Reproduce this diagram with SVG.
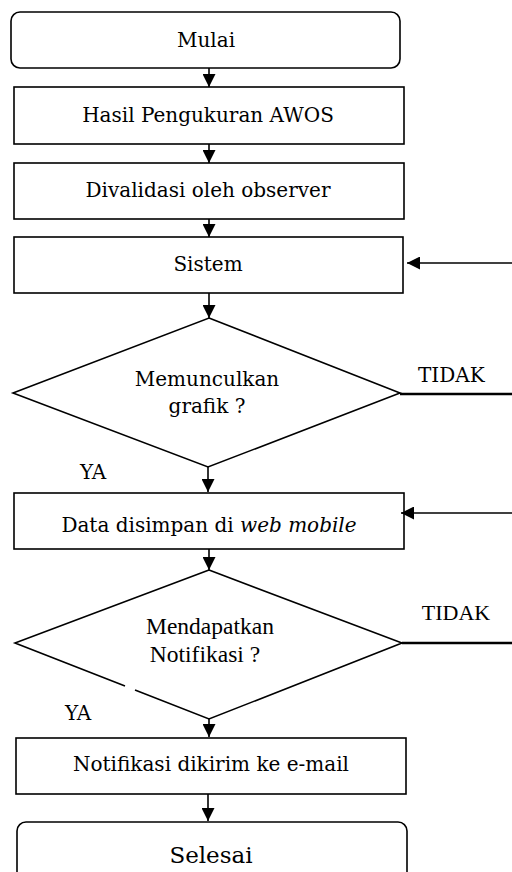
<svg xmlns="http://www.w3.org/2000/svg" width="512" height="872" viewBox="0 0 512 872">
<style>
.box{fill:#fff;stroke:#000;stroke-width:1.6}
.ln{fill:none;stroke:#000;stroke-width:1.6}
.thick{fill:none;stroke:#000;stroke-width:2.6}
.t{font-family:"DejaVu Serif","Liberation Serif",serif;font-size:20px;fill:#000;text-anchor:middle}
.tt{font-family:"Liberation Serif","Times New Roman",serif;font-size:23.5px;fill:#000;text-anchor:middle}
.lbl{font-family:"DejaVu Serif","Liberation Serif",serif;font-size:20px;fill:#000}
</style>
<defs>
<marker id="ah" markerUnits="userSpaceOnUse" markerWidth="13" markerHeight="13" refX="13" refY="6.5" orient="auto" viewBox="0 0 13 13">
<path d="M0,0 L13,6.5 L0,13 z" fill="#000"/>
</marker>
</defs>
<g id="mulai"><rect class="box" x="11" y="12" width="389" height="56" rx="9"/><text class="t" x="206" y="47">Mulai</text></g>
<g id="hasil"><rect class="box" x="14" y="87" width="390" height="57"/><text class="t" x="208" y="122">Hasil Pengukuran AWOS</text></g>
<g id="validasi"><rect class="box" x="14" y="163" width="390" height="56"/><text class="t" x="208" y="197">Divalidasi oleh observer</text></g>
<g id="sistem"><rect class="box" x="14" y="237" width="389" height="56"/><text class="t" x="208" y="271">Sistem</text></g>
<g id="grafik"><path class="ln" d="M209,318 L400,393 L208,467 L13,393 Z"/><text class="t" x="207" y="386">Memunculkan</text><text class="t" x="207" y="413">grafik ?</text></g>
<g id="data"><rect class="box" x="14" y="493" width="390" height="56"/><text class="t" x="209" y="532">Data disimpan di <tspan font-style="italic">web mobile</tspan></text></g>
<g id="notif-q"><path class="ln" d="M209,570 L402,643 L209,719 L135,690 M125,686 L15,643 L209,570"/><text class="tt" x="210" y="634">Mendapatkan</text><text class="tt" x="205" y="662">Notifikasi  ?</text></g>
<g id="kirim"><rect class="box" x="16" y="738" width="390" height="56"/><text class="t" x="211" y="771">Notifikasi dikirim ke e-mail</text></g>
<g id="selesai"><rect class="box" x="17" y="822" width="390" height="60" rx="9"/><text class="t" x="211" y="863" style="font-size:23px">Selesai</text></g>
<g id="connectors">
<line class="ln" x1="209" y1="68" x2="209" y2="87" marker-end="url(#ah)"/>
<line class="ln" x1="209" y1="144" x2="209" y2="163" marker-end="url(#ah)"/>
<line class="ln" x1="209" y1="219" x2="209" y2="237" marker-end="url(#ah)"/>
<line class="ln" x1="209" y1="293" x2="209" y2="318" marker-end="url(#ah)"/>
<line class="ln" x1="208" y1="467" x2="208" y2="492" marker-end="url(#ah)"/>
<line class="ln" x1="209" y1="549" x2="209" y2="570" marker-end="url(#ah)"/>
<line class="ln" x1="209" y1="719" x2="209" y2="737" marker-end="url(#ah)"/>
<line class="ln" x1="208" y1="794" x2="208" y2="821" marker-end="url(#ah)"/>
<line class="ln" x1="512" y1="263" x2="407" y2="263" marker-end="url(#ah)"/>
<line class="ln" x1="512" y1="513" x2="401" y2="513" marker-end="url(#ah)"/>
<line class="thick" x1="400" y1="394" x2="512" y2="394"/>
<line class="thick" x1="402" y1="643" x2="512" y2="643"/>
<text class="lbl" x="418" y="382">TIDAK</text>
<text class="tt" x="456" y="620" style="font-size:22px">TIDAK</text>
<text class="lbl" x="80" y="479">YA</text>
<text class="lbl" x="65" y="720">YA</text>
</g>
</svg>
